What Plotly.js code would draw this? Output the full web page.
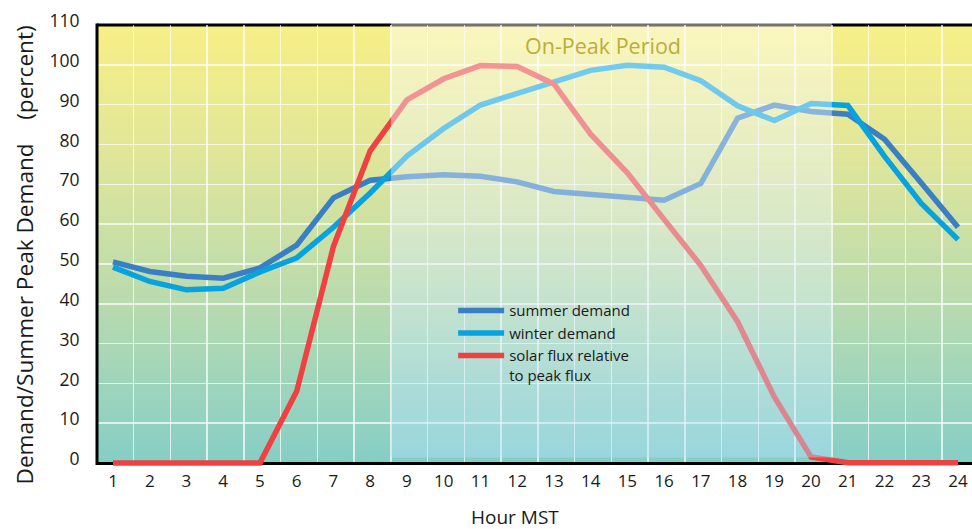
<!DOCTYPE html>
<html><head><meta charset="utf-8">
<script src="https://cdn.plot.ly/plotly-3.0.1.min.js"></script>
<style>html,body{margin:0;padding:0;background:#fff}#chart{width:972px;height:529px}</style>
</head><body><div id="chart"></div>
<script>
const hours = [1,2,3,4,5,6,7,8,9,10,11,12,13,14,15,16,17,18,19,20,21,22,23,24];
const hourLabels = ['1','2','3','4','5','6','7','8','9','10','11','12','13','14','15','16','17','18','19','20','21','22','23','24'];
const summerDemand = [50.5,48.1,46.9,46.4,49.0,54.7,66.6,71.0,71.9,72.4,72.0,70.6,68.2,67.5,66.5,66.0,70.2,86.6,89.9,88.3,87.6,81.3,70.3,59.2];
const winterDemand = [49.2,45.6,43.5,43.9,48.0,51.5,59.2,67.8,77.1,84.0,89.9,92.9,95.8,98.6,99.9,99.4,96.0,89.7,86.0,90.3,89.8,77.0,65.2,56.1];
const solarFlux    = [0,0,0,0,0,18.0,54.4,78.4,91.2,96.5,99.8,99.6,95.2,82.6,72.9,61.2,49.6,35.5,16.6,1.5,0.1,0.1,0.1,0.1];
const seriesNames = ['summer demand','winter demand','solar flux relative<br>to peak flux'];
const onPeakLabel = 'On-Peak Period';
const onPeakHours = [8.5645, 20.5645];
const yTicks = [0,10,20,30,40,50,60,70,80,90,100,110];

const X_RANGE = [0.5645, 24.38];
const Y_RANGE = [-2, 110];
const FONT = '"Open Sans", "Noto Sans", "DejaVu Sans", sans-serif';

const px = v => (v - X_RANGE[0]) / (X_RANGE[1] - X_RANGE[0]);
const py = v => (v - Y_RANGE[0]) / (Y_RANGE[1] - Y_RANGE[0]);

function gradientImage(stops) {
  const c = document.createElement('canvas');
  c.width = 2; c.height = 512;
  const g = c.getContext('2d');
  const lg = g.createLinearGradient(0, 0, 0, 512);
  stops.forEach(s => lg.addColorStop(s[0], s[1]));
  g.fillStyle = lg; g.fillRect(0, 0, 2, 512);
  return c.toDataURL('image/png');
}

const bgURL = gradientImage([[0,'#f8f086'],[0.3,'#e0e69a'],[0.6,'#bddcad'],[0.85,'#9bd4be'],[1,'#86cec6']]);
const overlayURL = gradientImage([[0,'rgba(255,255,255,0.45)'],[0.5,'rgba(228,242,250,0.42)'],[1,'rgba(178,226,255,0.42)']]);

const gridX = [];
for (let k = 1; k <= 23; k++) gridX.push(X_RANGE[0] + k);

const colors = ['#387fc3', '#08a3df', '#ee4242'];
const series = [summerDemand, winterDemand, solarFlux];
const traces = series.map((s, i) => ({
  type: 'scatter', mode: 'lines', x: hours, y: s, name: seriesNames[i],
  line: {color: colors[i], width: 5.5}, hoverinfo: 'skip'
}));

const topPad = 3 / 446;
const layout = {
  width: 972, height: 529,
  margin: {l: 97, r: 0, t: 25, b: 58},
  paper_bgcolor: '#ffffff', plot_bgcolor: 'rgba(0,0,0,0)',
  font: {family: FONT, color: '#1a1a1a'},
  showlegend: true,
  xaxis: {
    range: X_RANGE, anchor: 'free', position: py(0),
    tickmode: 'array', tickvals: hours, ticktext: hourLabels,
    showgrid: false, zeroline: false,
    showline: true, linecolor: '#000', linewidth: 3, layer: 'below traces',
    ticks: 'outside', ticklen: 2, tickcolor: 'rgba(0,0,0,0)',
    tickfont: {family: FONT, size: 17, color: '#1a1a1a'},
    minor: {tickmode: 'array', tickvals: gridX, showgrid: true,
            gridcolor: 'rgba(255,255,255,0.7)', gridwidth: 1.5, ticks: ''},
    fixedrange: true
  },
  yaxis: {
    range: Y_RANGE, tickmode: 'array', tickvals: yTicks,
    showgrid: true, gridcolor: 'rgba(255,255,255,0.7)', gridwidth: 1.5,
    zeroline: false, showline: false,
    ticks: 'outside', ticklen: 13, tickcolor: 'rgba(0,0,0,0)',
    ticklabelshift: -4,
    tickfont: {family: FONT, size: 17.5, color: '#1a1a1a'},
    fixedrange: true
  },
  legend: {
    x: 0.407, y: 0.3965, xanchor: 'left', yanchor: 'top',
    bgcolor: 'rgba(0,0,0,0)', borderwidth: 0, valign: 'top',
    itemwidth: 46,
    font: {family: FONT, size: 15, color: '#1a1a1a'}
  },
  images: [
    {source: bgURL, xref: 'paper', yref: 'paper', x: 0, y: 1, sizex: 1, sizey: 1 - py(0),
     xanchor: 'left', yanchor: 'top', sizing: 'stretch', layer: 'below'},
    {source: overlayURL, xref: 'paper', yref: 'paper', x: px(onPeakHours[0]), y: 1 + topPad,
     sizex: px(onPeakHours[1]) - px(onPeakHours[0]), sizey: 1 + topPad - py(1.4),
     xanchor: 'left', yanchor: 'top', sizing: 'stretch', layer: 'above'}
  ],
  shapes: [
    {type: 'line', xref: 'paper', yref: 'paper', x0: 0, x1: 1, y0: 1, y1: 1,
     line: {color: '#000', width: 3}, layer: 'below'},
    {type: 'line', xref: 'paper', yref: 'paper', x0: 0, x1: 0, y0: py(0) - 2/446, y1: 1 + 1.5/446,
     line: {color: '#000', width: 3}, layer: 'above'}
  ],
  annotations: [
    {text: onPeakLabel, xref: 'x', yref: 'y', x: 14.34, y: 104.8, showarrow: false,
     xanchor: 'center', yanchor: 'middle',
     font: {family: FONT, size: 21.5, color: '#bcad3a'}},
    {text: 'Demand/Summer Peak Demand\u00a0\u00a0\u00a0\u00a0(percent)', xref: 'paper', yref: 'paper',
     x: -0.083, y: 0.484, textangle: -90, showarrow: false, xanchor: 'center', yanchor: 'middle',
     font: {family: FONT, size: 22.6, color: '#1a1a1a'}},
    {text: 'Hour MST', xref: 'paper', yref: 'paper', x: 0.4777, y: -0.1032, showarrow: false,
     xanchor: 'center', yanchor: 'middle',
     font: {family: FONT, size: 19, color: '#1a1a1a'}}
  ]
};

Plotly.newPlot('chart', traces, layout, {displayModeBar: false, staticPlot: true});
</script>
</body></html>
